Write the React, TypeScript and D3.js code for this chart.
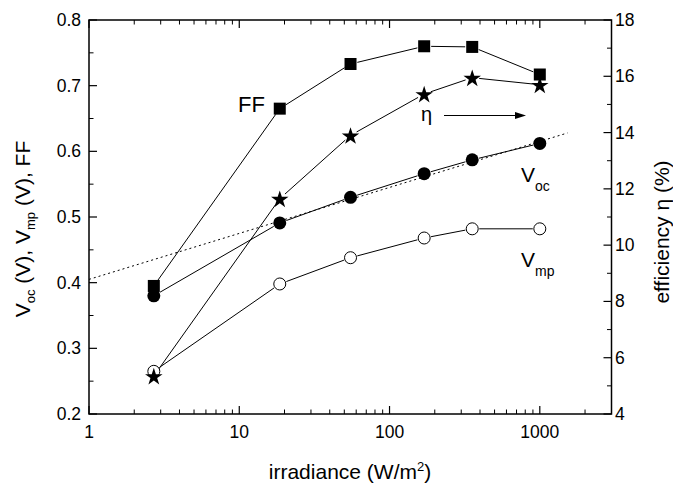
import React from "react";
import * as d3 from "d3";

const irradiance = [2.7, 18.6, 55, 170, 355, 1000];
const ffValues = [0.395, 0.665, 0.733, 0.76, 0.759, 0.717];
const vocValues = [0.38, 0.491, 0.53, 0.566, 0.587, 0.612];
const vmpValues = [0.265, 0.398, 0.438, 0.468, 0.482, 0.482];
const etaValues = [5.35, 11.65, 13.9, 15.37, 15.95, 15.7];
const fitX = [1, 1530];
const fitY = [0.405, 0.628];
const xTickLabels = ["1", "10", "100", "1000"];
const leftTicks = [0.2, 0.3, 0.4, 0.5, 0.6, 0.7, 0.8];
const rightTicks = [4, 6, 8, 10, 12, 14, 16, 18];

const W = 673, H = 486;
const L = 89, R = 611.5, T = 20, B = 414;
const FONT = "'Liberation Sans', Arial, Helvetica, sans-serif";
const TICK_FS = 17.5;
const TITLE_FS = 21;

export default function App() {
  const x = d3.scaleLog().domain([1, 3000]).range([L, R]);
  const yL = d3.scaleLinear().domain([0.2, 0.8]).range([B, T]);
  const yR = d3.scaleLinear().domain([4, 18]).range([B, T]);

  const minorX: number[] = [];
  for (let dec = 1; dec <= 1000; dec *= 10) {
    for (let m = 2; m <= 9; m++) {
      const v = dec * m;
      if (v <= 3000) minorX.push(v);
    }
  }
  const majorX = [1, 10, 100, 1000];
  const minorL = d3.range(0.25, 0.8, 0.1);
  const minorR = d3.range(5, 18, 2);

  const trimmedPath = (pts: [number, number][], gap: number) => {
    const segs: string[] = [];
    for (let i = 0; i < pts.length - 1; i++) {
      const [x1, y1] = pts[i];
      const [x2, y2] = pts[i + 1];
      const dx = x2 - x1, dy = y2 - y1;
      const len = Math.hypot(dx, dy);
      if (len <= 2 * gap) continue;
      const ux = dx / len, uy = dy / len;
      segs.push(`M${x1 + ux * gap},${y1 + uy * gap}L${x2 - ux * gap},${y2 - uy * gap}`);
    }
    return segs.join("");
  };

  const ffPts = irradiance.map((v, i) => [x(v), yL(ffValues[i])] as [number, number]);
  const vocPts = irradiance.map((v, i) => [x(v), yL(vocValues[i])] as [number, number]);
  const vmpPts = irradiance.map((v, i) => [x(v), yL(vmpValues[i])] as [number, number]);
  const etaPts = irradiance.map((v, i) => [x(v), yR(etaValues[i])] as [number, number]);

  const star = d3.symbol().type(d3.symbolStar).size(95)();

  const fitLine = d3.line<number>().x((_, i) => x(fitX[i])).y((d) => yL(d));

  return (
    <svg width={W} height={H} style={{ position: "absolute", left: 0, top: 0, background: "#fff" }} fontFamily={FONT}>
      <rect x={0} y={0} width={W} height={H} fill="#fff" />
      {/* fit dotted line */}
      <path d={fitLine(fitY) || ""} fill="none" stroke="#000" strokeWidth={1} strokeDasharray="2,3" />
      {/* series lines */}
      <path d={trimmedPath(ffPts, 7)} stroke="#000" strokeWidth={1} fill="none" />
      <path d={trimmedPath(vocPts, 7)} stroke="#000" strokeWidth={1} fill="none" />
      <path d={trimmedPath(vmpPts, 7)} stroke="#000" strokeWidth={1} fill="none" />
      <path d={trimmedPath(etaPts, 7)} stroke="#000" strokeWidth={1} fill="none" />
      {/* markers */}
      {ffPts.map(([px, py], i) => (
        <rect key={"ff" + i} x={px - 6} y={py - 6} width={12} height={12} fill="#000" />
      ))}
      {vocPts.map(([px, py], i) => (
        <circle key={"voc" + i} cx={px} cy={py} r={6.5} fill="#000" />
      ))}
      {vmpPts.map(([px, py], i) => (
        <circle key={"vmp" + i} cx={px} cy={py} r={6} fill="#fff" stroke="#000" strokeWidth={1} />
      ))}
      {etaPts.map(([px, py], i) => (
        <path key={"eta" + i} d={star || ""} transform={`translate(${px},${py + 1})`} fill="#000" />
      ))}
      {/* axes frame */}
      <rect x={L} y={T} width={R - L} height={B - T} fill="none" stroke="#000" strokeWidth={1.5} />
      {/* x ticks bottom and top */}
      {majorX.map((v) => (
        <g key={"mx" + v}>
          <line x1={x(v)} x2={x(v)} y1={B} y2={B - 8} stroke="#000" strokeWidth={1.2} />
          <line x1={x(v)} x2={x(v)} y1={T} y2={T + 8} stroke="#000" strokeWidth={1.2} />
        </g>
      ))}
      {minorX.map((v) => (
        <g key={"nx" + v}>
          <line x1={x(v)} x2={x(v)} y1={B} y2={B - 4.5} stroke="#000" strokeWidth={1} />
          <line x1={x(v)} x2={x(v)} y1={T} y2={T + 4.5} stroke="#000" strokeWidth={1} />
        </g>
      ))}
      {majorX.map((v, i) => (
        <text key={"xl" + v} x={x(v)} y={438} textAnchor="middle" fontSize={TICK_FS}>
          {xTickLabels[i]}
        </text>
      ))}
      {/* left ticks */}
      {leftTicks.map((v) => (
        <g key={"ly" + v}>
          <line x1={L} x2={L + 8} y1={yL(v)} y2={yL(v)} stroke="#000" strokeWidth={1.2} />
          <text x={81} y={yL(v) + 6} textAnchor="end" fontSize={TICK_FS}>
            {v.toFixed(1)}
          </text>
        </g>
      ))}
      {minorL.map((v) => (
        <line key={"nly" + v} x1={L} x2={L + 4.5} y1={yL(v)} y2={yL(v)} stroke="#000" strokeWidth={1} />
      ))}
      {/* right ticks */}
      {rightTicks.map((v) => (
        <g key={"ry" + v}>
          <line x1={R} x2={R - 8} y1={yR(v)} y2={yR(v)} stroke="#000" strokeWidth={1.2} />
          <text x={615} y={yR(v) + 6} textAnchor="start" fontSize={TICK_FS}>
            {v}
          </text>
        </g>
      ))}
      {minorR.map((v) => (
        <line key={"nry" + v} x1={R} x2={R - 4.5} y1={yR(v)} y2={yR(v)} stroke="#000" strokeWidth={1} />
      ))}
      {/* axis titles */}
      <text x={350} y={479} textAnchor="middle" fontSize={TITLE_FS}>
        irradiance (W/m<tspan dy={-8} fontSize={13}>2</tspan><tspan dy={8}>)</tspan>
      </text>
      <text transform="translate(30,229) rotate(-90)" textAnchor="middle" fontSize={TITLE_FS}>
        V<tspan dy={5} fontSize={13}>oc</tspan><tspan dy={-5}> (V), V</tspan><tspan dy={5} fontSize={13}>mp</tspan><tspan dy={-5}> (V), FF</tspan>
      </text>
      <text transform="translate(669,232) rotate(-90)" textAnchor="middle" fontSize={TITLE_FS}>
        efficiency η (%)
      </text>
      {/* in-plot labels */}
      <text x={238} y={111.5} fontSize={22}>FF</text>
      <text x={421} y={121} fontSize={20}>η</text>
      <line x1={444} x2={518} y1={115.5} y2={115.5} stroke="#000" strokeWidth={1} />
      <path d="M526,115.5 L515,112 L515,119 Z" fill="#000" />
      <text x={521} y={182} fontSize={21}>V<tspan dy={9} fontSize={14}>oc</tspan></text>
      <text x={521} y={267} fontSize={21}>V<tspan dy={9} fontSize={14}>mp</tspan></text>
    </svg>
  );
}
